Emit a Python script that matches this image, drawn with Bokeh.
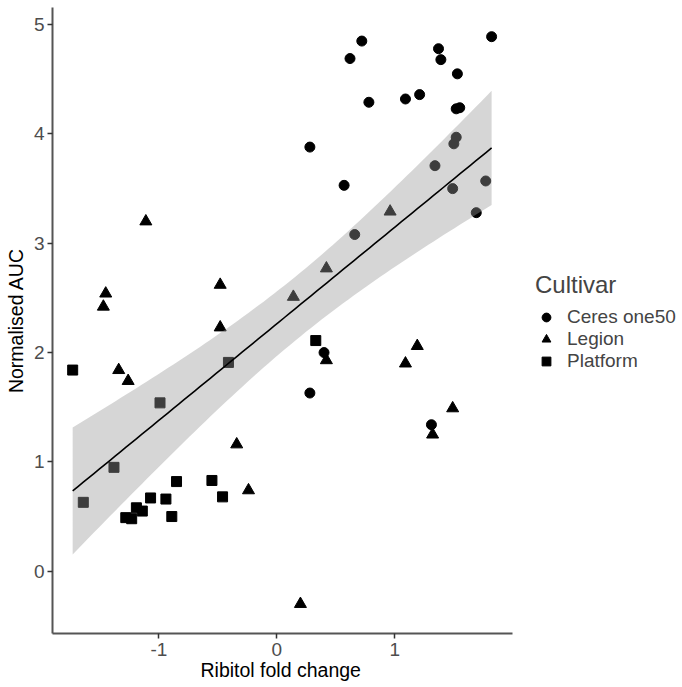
import numpy as np
from bokeh.plotting import figure
from bokeh.models import Range1d, FixedTicker, Legend, LegendItem, CustomJSTickFormatter, Title
from bokeh.embed import file_html
from bokeh.resources import INLINE

ceres_x = [1.82, 0.72, 0.62, 1.37, 1.39, 1.53, 0.78, 1.09, 1.21, 1.52, 1.55, 1.52, 1.50, 0.28, 1.34, 0.57, 1.49, 1.77, 1.69, 0.66, 0.40, 0.28, 1.31]
ceres_y = [4.89, 4.85, 4.69, 4.78, 4.68, 4.55, 4.29, 4.32, 4.36, 4.23, 4.24, 3.97, 3.91, 3.88, 3.71, 3.53, 3.50, 3.57, 3.28, 3.08, 2.00, 1.63, 1.34]

legion_x = [-1.11, -1.45, -1.47, -0.48, 0.96, 0.42, 0.14, -0.48, -1.34, -1.26, -0.34, -0.24, 0.42, 1.19, 1.09, 1.49, 1.32, 0.20]
legion_y = [3.20, 2.54, 2.42, 2.62, 3.29, 2.77, 2.51, 2.23, 1.84, 1.74, 1.16, 0.74, 1.93, 2.06, 1.90, 1.49, 1.25, -0.30]

platform_x = [-1.73, -0.41, -0.99, -1.38, -1.64, -0.85, -0.55, -0.46, -1.07, -0.94, -1.19, -1.14, -1.28, -1.23, -0.89, 0.33]
platform_y = [1.84, 1.91, 1.54, 0.95, 0.63, 0.82, 0.83, 0.68, 0.67, 0.66, 0.58, 0.55, 0.49, 0.48, 0.50, 2.11]

x_ticks = [-1, 0, 1]
y_ticks = [0, 1, 2, 3, 4, 5]
cultivars = ["Ceres one50", "Legion", "Platform"]

FONT = "Liberation Sans"

# x axis spans -1.901..1.997 over 460 px; the frame continues to the right
# edge so that the legend (drawn inside the frame) is not clipped
X0, X1 = -1.901, 1.997
LEFT, FRAME_AXIS_W, W = 52, 460, 682
x_end = X0 + (X1 - X0) * (W - LEFT) / FRAME_AXIS_W

p = figure(width=W, height=687, output_backend="svg", toolbar_location=None,
           x_range=Range1d(X0, x_end), y_range=Range1d(-0.570, 5.157),
           min_border_left=LEFT, min_border_right=0, min_border_top=7, min_border_bottom=54)
p.xgrid.visible = False
p.ygrid.visible = False
p.outline_line_color = None

r1 = p.scatter(ceres_x, ceres_y, marker="circle", size=10, color="black")
r2 = p.scatter(legion_x, legion_y, marker="triangle", size=12, color="black")
r3 = p.scatter(platform_x, platform_y, marker="square", size=10, color="black")

# linear fit with 95% confidence band (geom_smooth(method="lm"))
ax = np.array(ceres_x + legion_x + platform_x)
ay = np.array(ceres_y + legion_y + platform_y)
n = len(ax)
b, a = np.polyfit(ax, ay, 1)
res = ay - (a + b * ax)
s = np.sqrt(np.sum(res ** 2) / (n - 2))
xbar = ax.mean()
sxx = np.sum((ax - xbar) ** 2)
xs = np.linspace(ax.min(), ax.max(), 80)
fit = a + b * xs
se = s * np.sqrt(1.0 / n + (xs - xbar) ** 2 / sxx)
t = 2.004
p.varea(x=xs, y1=fit - t * se, y2=fit + t * se, fill_color="#999999", fill_alpha=0.4)
p.line(xs, fit, line_color="black", line_width=1.6)

for axis in (p.xaxis[0], p.yaxis[0]):
    axis.axis_line_color = "#555555"
    axis.axis_line_width = 2
    axis.major_tick_line_color = "#333333"
    axis.major_tick_line_width = 1.5
    axis.major_tick_out = 5
    axis.major_tick_in = 0
    axis.minor_tick_line_color = None
    axis.major_label_text_font = FONT
    axis.major_label_text_font_size = "19px"
    axis.major_label_text_color = "#4d4d4d"
    axis.axis_label_text_font = FONT
    axis.axis_label_text_font_size = "19.5px"
    axis.axis_label_text_font_style = "normal"
    axis.axis_label_text_color = "black"
    axis.formatter = CustomJSTickFormatter(code="return tick.toString();")

p.xaxis[0].bounds = (X0, X1)
p.xaxis[0].ticker = FixedTicker(ticks=x_ticks)
p.yaxis[0].ticker = FixedTicker(ticks=y_ticks)
p.yaxis[0].axis_label = "Normalised AUC"
p.xaxis[0].major_label_standoff = 4
p.yaxis[0].major_label_standoff = 3
p.yaxis[0].axis_label_standoff = 4

# x-axis title, centred under the drawn part of the x axis
xtitle = Title(text="Ribitol fold change", align="left", offset=148, standoff=-4,
               text_font=FONT, text_font_size="19.5px", text_font_style="normal",
               text_color="black")
p.add_layout(xtitle, "below")

legend = Legend(items=[LegendItem(label=cultivars[0], renderers=[r1]),
                       LegendItem(label=cultivars[1], renderers=[r2]),
                       LegendItem(label=cultivars[2], renderers=[r3])],
                location=(483, 261), title="Cultivar",
                border_line_alpha=0, background_fill_alpha=0,
                padding=0, margin=0, spacing=0,
                glyph_width=22, glyph_height=22, label_height=22,
                label_standoff=10, title_standoff=7,
                label_text_font=FONT, label_text_font_size="19px",
                title_text_font=FONT, title_text_font_size="24px",
                title_text_font_style="normal")
p.add_layout(legend)

open("out.html", "w").write(file_html(p, INLINE))
